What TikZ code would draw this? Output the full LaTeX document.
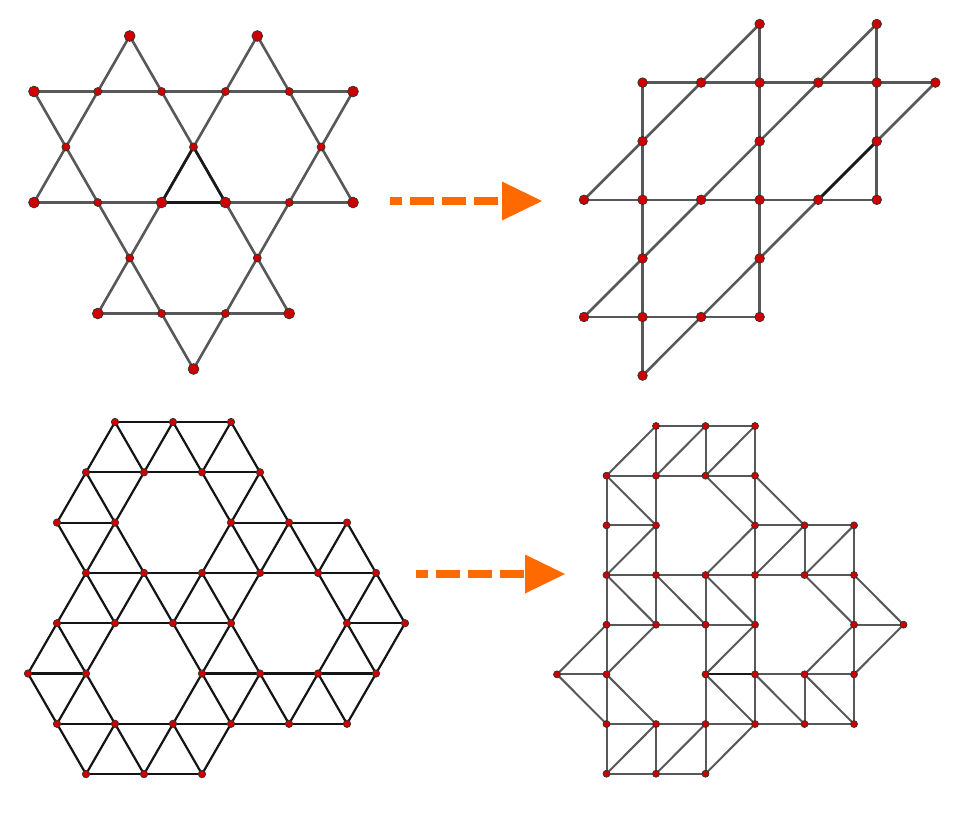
\documentclass[tikz,border=0pt]{standalone}
\usetikzlibrary{arrows.meta}

\definecolor{dotred}{RGB}{204,0,0}
\definecolor{linegray}{RGB}{88,88,88}
\definecolor{floworange}{RGB}{255,106,0}

% kagome star, column/row on the half-edge grid
\newcommand{\starnodes}{3/0,7/0,0/1,2/1,4/1,6/1,8/1,10/1,1/2,5/2,9/2,0/3,2/3,4/3,6/3,8/3,10/3,3/4,7/4,2/5,4/5,6/5,8/5,5/6}
\newcommand{\starbig}{3/0,7/0,0/1,10/1,0/3,4/3,6/3,10/3,2/5,8/5,5/6}
\newcommand{\starsmall}{2/1,4/1,6/1,8/1,1/2,5/2,9/2,2/3,8/3,3/4,7/4,4/5,6/5}
% triangular lattice with three holes
\newcommand{\hexnodes}{3/0,5/0,7/0,2/1,4/1,6/1,8/1,1/2,3/2,7/2,9/2,11/2,2/3,4/3,6/3,8/3,10/3,12/3,1/4,3/4,5/4,7/4,11/4,13/4,0/5,2/5,6/5,8/5,10/5,12/5,1/6,3/6,5/6,7/6,9/6,11/6,2/7,4/7,6/7}

% join every pair of lattice neighbours that both exist
\newcommand{\latticelinks}[3]{%
  \foreach \col/\row in #2 {
    \foreach \dk/\dr in {2/0,1/1,-1/1} {
      \pgfmathtruncatemacro{\kk}{\col+(\dk)}
      \pgfmathtruncatemacro{\rr}{\row+(\dr)}
      \ifcsname pgf@sh@ns@#1\kk-\rr\endcsname
        \draw[#3] (#1\col-\row) -- (#1\kk-\rr);
      \fi
    }
  }}

\begin{document}
\begin{tikzpicture}[x=.5pt,y=-.5pt,
  bigdot/.style={circle,fill=dotred,draw=black!80,line width=.35pt,inner sep=0pt,minimum size=5.4pt},
  smalldot/.style={bigdot,minimum size=4pt},
  sqdot/.style={bigdot,minimum size=4.8pt},
  hexdot/.style={bigdot,minimum size=3.7pt},
  brickdot/.style={bigdot,minimum size=3.5pt},
  staredge/.style={draw=linegray,line width=1.3pt},
  darkedge/.style={draw=black!90,line width=1.3pt},
  hexedge/.style={draw=black!92,line width=1.1pt},
  brickedge/.style={draw=linegray,line width=1pt},
  brickdark/.style={draw=black!90,line width=1pt},
  flow/.style={draw=floworange,line width=4.35pt,dash pattern=on 12pt off 4pt,dash phase=6pt,
    -{Triangle[length=20pt,width=19.5pt,line width=0pt]}}]
  \useasboundingbox (0,0) rectangle (972,814);
  % positions
  \foreach \col/\row in \starnodes {
    \coordinate (sa\col-\row) at ({34+31.9*\col},{36+55.5*\row});
    \coordinate (sb\col-\row) at ({584+29.275*(\col+3-\row)},{24+58.6*\row});
  }
  \foreach \col/\row in \hexnodes {
    \coordinate (ha\col-\row) at ({28+29*\col},{422+50.3*\row});
    \coordinate (hb\col-\row) at ({557+24.75*(\col+mod(\row+1,2))},{426+49.67*\row});
  }
  % edges
  \latticelinks{sa}{\starnodes}{staredge}
  \draw[darkedge] (sa5-2)--(sa4-3)--(sa6-3)--cycle;
  \latticelinks{sb}{\starnodes}{staredge}
  \draw[darkedge] (sb8-3)--(sb9-2);
  \latticelinks{ha}{\hexnodes}{hexedge}
  \latticelinks{hb}{\hexnodes}{brickedge}
  \draw[brickdark] (hb6-5)--(hb8-5);
  % arrows
  \coordinate (fa0) at (390,201); \coordinate (fa1) at (542,201);
  \coordinate (fb0) at (416,574); \coordinate (fb1) at (565,574);
  \draw[flow] (fa0)--(fa1); \draw[flow] (fb0)--(fb1);
  % dots
  \foreach \col/\row in \starbig {\node[bigdot] (da\col-\row) at (sa\col-\row) {};}
  \foreach \col/\row in \starsmall {\node[smalldot] (da\col-\row) at (sa\col-\row) {};}
  \foreach \col/\row in \starnodes {\node[sqdot] (db\col-\row) at (sb\col-\row) {};}
  \foreach \col/\row in \hexnodes {\node[hexdot] (dh\col-\row) at (ha\col-\row) {};
    \node[brickdot] (dk\col-\row) at (hb\col-\row) {};}
\end{tikzpicture}
\end{document}
